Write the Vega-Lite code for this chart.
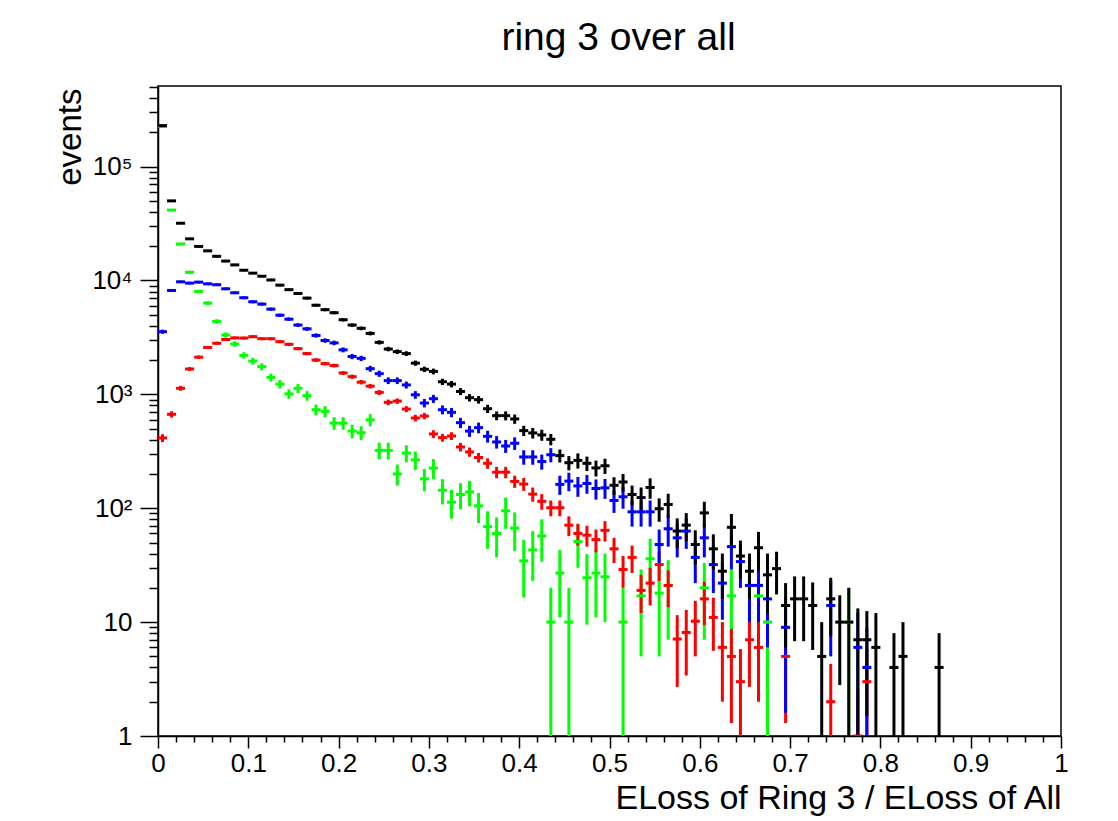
{
"$schema": "https://vega.github.io/schema/vega-lite/v6.json",
"width": 903, "height": 650,
"autosize": {"type": "none"},
"padding": {"left": 158, "top": 86, "right": 57, "bottom": 85},
"background": "white",
"title": {"text": "ring 3 over all", "font": "Liberation Sans", "fontSize": 39, "fontWeight": "normal", "color": "black", "anchor": "middle", "frame": "group", "baseline": "alphabetic", "offset": 38, "dx": 9, "dy": 53},
"config": {"view": {"stroke": "black", "strokeWidth": 1.5}},
"data": {"values": [
{"s":"g","x":0.005,"v":225000,"e":1423},{"s":"g","x":0.015,"v":41500,"e":611},{"s":"g","x":0.025,"v":20900,"e":434},{"s":"g","x":0.035,"v":11800,"e":326},{"s":"g","x":0.045,"v":8010,"e":268},{"s":"g","x":0.055,"v":6330,"e":239},{"s":"g","x":0.065,"v":4370,"e":198},{"s":"g","x":0.075,"v":3320,"e":173},{"s":"g","x":0.085,"v":2770,"e":158},{"s":"g","x":0.095,"v":2200,"e":141},
{"s":"g","x":0.105,"v":1960,"e":133},{"s":"g","x":0.115,"v":1750,"e":125},{"s":"g","x":0.125,"v":1410,"e":113},{"s":"g","x":0.135,"v":1230,"e":105},{"s":"g","x":0.145,"v":1010,"e":95},{"s":"g","x":0.155,"v":1130,"e":101},{"s":"g","x":0.165,"v":973,"e":94},{"s":"g","x":0.175,"v":733,"e":81},{"s":"g","x":0.185,"v":709,"e":80},{"s":"g","x":0.195,"v":560,"e":71},
{"s":"g","x":0.205,"v":560,"e":71},{"s":"g","x":0.215,"v":476,"e":65},{"s":"g","x":0.225,"v":460,"e":64},{"s":"g","x":0.235,"v":597,"e":73},{"s":"g","x":0.245,"v":322,"e":54},{"s":"g","x":0.255,"v":322,"e":54},{"s":"g","x":0.265,"v":200,"e":42},{"s":"g","x":0.275,"v":305,"e":52},{"s":"g","x":0.285,"v":266,"e":49},{"s":"g","x":0.295,"v":181,"e":40},
{"s":"g","x":0.305,"v":225,"e":45},{"s":"g","x":0.315,"v":144,"e":36},{"s":"g","x":0.325,"v":113,"e":32},{"s":"g","x":0.335,"v":132,"e":34},{"s":"g","x":0.345,"v":139,"e":35},{"s":"g","x":0.355,"v":105,"e":31},{"s":"g","x":0.365,"v":69,"e":25},{"s":"g","x":0.375,"v":60,"e":23},{"s":"g","x":0.385,"v":95,"e":29},{"s":"g","x":0.395,"v":67,"e":25},
{"s":"g","x":0.405,"v":34.5,"e":18},{"s":"g","x":0.415,"v":43,"e":20},{"s":"g","x":0.425,"v":57,"e":23},{"s":"g","x":0.435,"v":10,"e":10},{"s":"g","x":0.445,"v":27,"e":16},{"s":"g","x":0.455,"v":10,"e":10},{"s":"g","x":0.465,"v":51,"e":21},{"s":"g","x":0.475,"v":24.5,"e":15},{"s":"g","x":0.485,"v":27,"e":16},{"s":"g","x":0.495,"v":25,"e":15},
{"s":"g","x":0.515,"v":10,"e":10},{"s":"g","x":0.535,"v":17,"e":12},{"s":"g","x":0.545,"v":36,"e":18},{"s":"g","x":0.555,"v":18,"e":13},{"s":"g","x":0.565,"v":21,"e":14},{"s":"g","x":0.605,"v":20,"e":13},{"s":"g","x":0.635,"v":17,"e":12},{"s":"g","x":0.665,"v":17,"e":12},{"s":"g","x":0.675,"v":10,"e":10},{"s":"g","x":0.765,"v":10,"e":10},
{"s":"r","x":0.005,"v":414,"e":33},{"s":"r","x":0.015,"v":668,"e":42},{"s":"r","x":0.025,"v":1130,"e":55},{"s":"r","x":0.035,"v":1670,"e":67},{"s":"r","x":0.045,"v":2120,"e":75},{"s":"r","x":0.055,"v":2580,"e":83},{"s":"r","x":0.065,"v":2810,"e":87},{"s":"r","x":0.075,"v":3030,"e":90},{"s":"r","x":0.085,"v":3130,"e":92},{"s":"r","x":0.095,"v":3120,"e":92},
{"s":"r","x":0.105,"v":3210,"e":93},{"s":"r","x":0.115,"v":3080,"e":91},{"s":"r","x":0.125,"v":3080,"e":91},{"s":"r","x":0.135,"v":2900,"e":88},{"s":"r","x":0.145,"v":2750,"e":86},{"s":"r","x":0.155,"v":2520,"e":82},{"s":"r","x":0.165,"v":2280,"e":78},{"s":"r","x":0.175,"v":2000,"e":73},{"s":"r","x":0.185,"v":1860,"e":71},{"s":"r","x":0.195,"v":1790,"e":69},
{"s":"r","x":0.205,"v":1540,"e":64},{"s":"r","x":0.215,"v":1430,"e":62},{"s":"r","x":0.225,"v":1280,"e":59},{"s":"r","x":0.235,"v":1180,"e":56},{"s":"r","x":0.245,"v":1040,"e":53},{"s":"r","x":0.255,"v":851,"e":48},{"s":"r","x":0.265,"v":873,"e":48},{"s":"r","x":0.275,"v":743,"e":45},{"s":"r","x":0.285,"v":620,"e":41},{"s":"r","x":0.295,"v":645,"e":42},
{"s":"r","x":0.305,"v":449,"e":35},{"s":"r","x":0.315,"v":417,"e":33},{"s":"r","x":0.325,"v":431,"e":34},{"s":"r","x":0.335,"v":345,"e":30},{"s":"r","x":0.345,"v":312,"e":29},{"s":"r","x":0.355,"v":279,"e":27},{"s":"r","x":0.365,"v":248,"e":26},{"s":"r","x":0.375,"v":207,"e":24},{"s":"r","x":0.385,"v":207,"e":24},{"s":"r","x":0.395,"v":172,"e":21},
{"s":"r","x":0.405,"v":163,"e":21},{"s":"r","x":0.415,"v":133,"e":19},{"s":"r","x":0.425,"v":115,"e":18},{"s":"r","x":0.435,"v":101,"e":16},{"s":"r","x":0.445,"v":101,"e":16},{"s":"r","x":0.455,"v":71,"e":14},{"s":"r","x":0.465,"v":60,"e":13},{"s":"r","x":0.475,"v":58,"e":12},{"s":"r","x":0.485,"v":53,"e":12},{"s":"r","x":0.495,"v":64,"e":13},
{"s":"r","x":0.505,"v":44,"e":11},{"s":"r","x":0.515,"v":29,"e":9},{"s":"r","x":0.525,"v":37,"e":10},{"s":"r","x":0.535,"v":19,"e":7},{"s":"r","x":0.545,"v":22,"e":8},{"s":"r","x":0.555,"v":32,"e":9},{"s":"r","x":0.565,"v":21,"e":7.5},{"s":"r","x":0.575,"v":7.1,"e":4.4},{"s":"r","x":0.585,"v":8.1,"e":4.7},{"s":"r","x":0.595,"v":10.2,"e":5.2},
{"s":"r","x":0.605,"v":16,"e":6.6},{"s":"r","x":0.615,"v":11,"e":5.4},{"s":"r","x":0.625,"v":6,"e":4},{"s":"r","x":0.635,"v":5,"e":3.7},{"s":"r","x":0.645,"v":3,"e":2.8},{"s":"r","x":0.655,"v":7,"e":4.3},{"s":"r","x":0.665,"v":6,"e":4},{"s":"r","x":0.695,"v":5,"e":3.7},{"s":"r","x":0.745,"v":2,"e":2.3},{"s":"r","x":0.775,"v":1,"e":1.6},{"s":"r","x":0.785,"v":3,"e":2.8},
{"s":"b","x":0.005,"v":3550,"e":146},{"s":"b","x":0.015,"v":8170,"e":221},{"s":"b","x":0.025,"v":9730,"e":242},{"s":"b","x":0.035,"v":9480,"e":239},{"s":"b","x":0.045,"v":9670,"e":241},{"s":"b","x":0.055,"v":9340,"e":237},{"s":"b","x":0.065,"v":9170,"e":235},{"s":"b","x":0.075,"v":8450,"e":225},{"s":"b","x":0.085,"v":7800,"e":216},{"s":"b","x":0.095,"v":7050,"e":206},
{"s":"b","x":0.105,"v":6500,"e":198},{"s":"b","x":0.115,"v":6200,"e":193},{"s":"b","x":0.125,"v":5600,"e":183},{"s":"b","x":0.135,"v":4950,"e":172},{"s":"b","x":0.145,"v":4570,"e":166},{"s":"b","x":0.155,"v":4060,"e":156},{"s":"b","x":0.165,"v":3760,"e":150},{"s":"b","x":0.175,"v":3290,"e":141},{"s":"b","x":0.185,"v":2970,"e":134},{"s":"b","x":0.195,"v":2830,"e":130},
{"s":"b","x":0.205,"v":2460,"e":122},{"s":"b","x":0.215,"v":2150,"e":114},{"s":"b","x":0.225,"v":2070,"e":111},{"s":"b","x":0.235,"v":1680,"e":100},{"s":"b","x":0.245,"v":1520,"e":96},{"s":"b","x":0.255,"v":1320,"e":89},{"s":"b","x":0.265,"v":1320,"e":89},{"s":"b","x":0.275,"v":1210,"e":85},{"s":"b","x":0.285,"v":991,"e":77},{"s":"b","x":0.295,"v":839,"e":71},
{"s":"b","x":0.305,"v":916,"e":74},{"s":"b","x":0.315,"v":733,"e":66},{"s":"b","x":0.325,"v":695,"e":65},{"s":"b","x":0.335,"v":564,"e":58},{"s":"b","x":0.345,"v":476,"e":53},{"s":"b","x":0.355,"v":510,"e":55},{"s":"b","x":0.365,"v":428,"e":51},{"s":"b","x":0.375,"v":382,"e":48},{"s":"b","x":0.385,"v":352,"e":46},{"s":"b","x":0.395,"v":372,"e":47},
{"s":"b","x":0.405,"v":282,"e":41},{"s":"b","x":0.415,"v":282,"e":41},{"s":"b","x":0.425,"v":257,"e":39},{"s":"b","x":0.435,"v":295,"e":42},{"s":"b","x":0.445,"v":162,"e":31},{"s":"b","x":0.455,"v":173,"e":32},{"s":"b","x":0.465,"v":157,"e":31},{"s":"b","x":0.475,"v":165,"e":31},{"s":"b","x":0.485,"v":149,"e":30},{"s":"b","x":0.495,"v":151,"e":30},
{"s":"b","x":0.505,"v":117,"e":26},{"s":"b","x":0.515,"v":126,"e":27},{"s":"b","x":0.525,"v":93,"e":24},{"s":"b","x":0.535,"v":93,"e":24},{"s":"b","x":0.545,"v":93,"e":24},{"s":"b","x":0.555,"v":48,"e":17},{"s":"b","x":0.565,"v":66,"e":20},{"s":"b","x":0.575,"v":55,"e":18},{"s":"b","x":0.585,"v":63,"e":19},{"s":"b","x":0.595,"v":37,"e":15},
{"s":"b","x":0.605,"v":55,"e":18},{"s":"b","x":0.615,"v":32,"e":14},{"s":"b","x":0.625,"v":22,"e":11.5},{"s":"b","x":0.635,"v":46,"e":17},{"s":"b","x":0.645,"v":34,"e":14},{"s":"b","x":0.655,"v":21,"e":11},{"s":"b","x":0.665,"v":21,"e":11},{"s":"b","x":0.675,"v":16,"e":10},{"s":"b","x":0.695,"v":9,"e":7.4},{"s":"b","x":0.745,"v":14,"e":9},{"s":"b","x":0.775,"v":6,"e":6},{"s":"b","x":0.785,"v":4,"e":4.9},
{"s":"k","x":0.005,"v":229000,"e":1431},{"s":"k","x":0.015,"v":50000,"e":651},{"s":"k","x":0.025,"v":31800,"e":500},{"s":"k","x":0.035,"v":23200,"e":410},{"s":"k","x":0.045,"v":19900,"e":368},{"s":"k","x":0.055,"v":18200,"e":347},{"s":"k","x":0.065,"v":16300,"e":319},{"s":"k","x":0.075,"v":14800,"e":298},{"s":"k","x":0.085,"v":13700,"e":283},{"s":"k","x":0.095,"v":12300,"e":266},
{"s":"k","x":0.105,"v":11600,"e":256},{"s":"k","x":0.115,"v":10900,"e":247},{"s":"k","x":0.125,"v":10100,"e":234},{"s":"k","x":0.135,"v":9100,"e":220},{"s":"k","x":0.145,"v":8300,"e":210},{"s":"k","x":0.155,"v":7690,"e":203},{"s":"k","x":0.165,"v":7000,"e":193},{"s":"k","x":0.175,"v":6060,"e":178},{"s":"k","x":0.185,"v":5540,"e":171},{"s":"k","x":0.195,"v":5210,"e":163},
{"s":"k","x":0.205,"v":4520,"e":155},{"s":"k","x":0.215,"v":4060,"e":145},{"s":"k","x":0.225,"v":3800,"e":141},{"s":"k","x":0.235,"v":3430,"e":136},{"s":"k","x":0.245,"v":2860,"e":122},{"s":"k","x":0.255,"v":2500,"e":115},{"s":"k","x":0.265,"v":2370,"e":109},{"s":"k","x":0.275,"v":2280,"e":109},{"s":"k","x":0.285,"v":1880,"e":100},{"s":"k","x":0.295,"v":1660,"e":92},
{"s":"k","x":0.305,"v":1590,"e":93},{"s":"k","x":0.315,"v":1290,"e":82},{"s":"k","x":0.325,"v":1230,"e":80},{"s":"k","x":0.335,"v":1060,"e":74},{"s":"k","x":0.345,"v":935,"e":70},{"s":"k","x":0.355,"v":898,"e":69},{"s":"k","x":0.365,"v":748,"e":62},{"s":"k","x":0.375,"v":650,"e":58},{"s":"k","x":0.385,"v":650,"e":59},{"s":"k","x":0.395,"v":608,"e":57},
{"s":"k","x":0.405,"v":480,"e":49},{"s":"k","x":0.415,"v":458,"e":49},{"s":"k","x":0.425,"v":440,"e":49},{"s":"k","x":0.435,"v":403,"e":46},{"s":"k","x":0.445,"v":290,"e":38},{"s":"k","x":0.455,"v":251,"e":36},{"s":"k","x":0.465,"v":263,"e":40},{"s":"k","x":0.475,"v":248,"e":36},{"s":"k","x":0.485,"v":226,"e":36},{"s":"k","x":0.495,"v":236,"e":36},
{"s":"k","x":0.505,"v":159,"e":28},{"s":"k","x":0.515,"v":170,"e":30},{"s":"k","x":0.525,"v":132,"e":26},{"s":"k","x":0.535,"v":124,"e":28},{"s":"k","x":0.545,"v":152,"e":31},{"s":"k","x":0.555,"v":99,"e":23},{"s":"k","x":0.565,"v":108,"e":26},{"s":"k","x":0.575,"v":63,"e":18.5},{"s":"k","x":0.585,"v":71,"e":19.6},{"s":"k","x":0.595,"v":48,"e":16},
{"s":"k","x":0.605,"v":91,"e":23},{"s":"k","x":0.615,"v":44,"e":15},{"s":"k","x":0.625,"v":28,"e":12},{"s":"k","x":0.635,"v":68,"e":21},{"s":"k","x":0.645,"v":38,"e":14},{"s":"k","x":0.655,"v":28,"e":12},{"s":"k","x":0.665,"v":45,"e":17},{"s":"k","x":0.675,"v":26,"e":14},{"s":"k","x":0.685,"v":29.5,"e":12},{"s":"k","x":0.695,"v":14,"e":8},
{"s":"k","x":0.705,"v":16,"e":9.2},{"s":"k","x":0.715,"v":16,"e":9.2},{"s":"k","x":0.725,"v":14,"e":8.3},{"s":"k","x":0.735,"v":5,"e":5},{"s":"k","x":0.745,"v":16,"e":8.5},{"s":"k","x":0.755,"v":10,"e":7.2},{"s":"k","x":0.765,"v":10,"e":10},{"s":"k","x":0.775,"v":7,"e":6.2},{"s":"k","x":0.785,"v":7,"e":5.5},{"s":"k","x":0.795,"v":6,"e":6},
{"s":"k","x":0.815,"v":4,"e":4},{"s":"k","x":0.825,"v":5,"e":5},{"s":"k","x":0.865,"v":4,"e":4}
]},
"transform": [
{"calculate": "max(datum.v - datum.e, 1)", "as": "lo"},
{"calculate": "datum.v + datum.e", "as": "hi"},
{"calculate": "datum.x - 0.005", "as": "xl"},
{"calculate": "datum.x + 0.005", "as": "xr"}
],
"encoding": {
"color": {"field": "s", "type": "nominal", "scale": {"domain": ["g","r","b","k"], "range": ["#00ff00","#ff0000","#0000ff","#000000"]}, "legend": null}
},
"layer": [
{"mark": {"type": "rule", "strokeWidth": 3, "clip": true},
 "encoding": {
  "x": {"field": "x", "type": "quantitative",
   "scale": {"domain": [0, 1], "nice": false, "zero": false},
   "axis": {"title": "ELoss of Ring 3 / ELoss of All",
    "tickCount": 200,
    "values": [0,0.02,0.04,0.06,0.08,0.1,0.12,0.14,0.16,0.18,0.2,0.22,0.24,0.26,0.28,0.3,0.32,0.34,0.36,0.38,0.4,0.42,0.44,0.46,0.48,0.5,0.52,0.54,0.56,0.58,0.6,0.62,0.64,0.66,0.68,0.7,0.72,0.74,0.76,0.78,0.8,0.82,0.84,0.86,0.88,0.9,0.92,0.94,0.96,0.98,1],
    "labelExpr": "abs(datum.value*10 - round(datum.value*10)) < 0.001 ? '' + (round(datum.value*10)/10) : ''",
    "tickSize": {"condition": {"test": "abs(datum.value*10 - round(datum.value*10)) < 0.001", "value": 12}, "value": 6},
    "grid": false, "domainColor": "black", "domainWidth": 1.5, "tickColor": "black", "tickWidth": 1.5,
    "labelFont": "Liberation Sans", "labelFontSize": 26, "labelColor": "black", "labelPadding": 2, "labelFlush": false, "labelOverlap": false, "labelBound": false,
    "titleFont": "Liberation Sans", "titleFontSize": 34, "titleFontWeight": "normal", "titleColor": "black",
    "titleAlign": "right", "titleBaseline": "alphabetic", "titleX": 903, "titleY": 72}},
  "y": {"field": "lo", "type": "quantitative",
   "scale": {"type": "log", "domain": [1, 510000], "nice": false},
   "axis": {"title": "events",
    "tickCount": 200,
    "values": [1,2,3,4,5,6,7,8,9,10,20,30,40,50,60,70,80,90,100,200,300,400,500,600,700,800,900,1000,2000,3000,4000,5000,6000,7000,8000,9000,10000,20000,30000,40000,50000,60000,70000,80000,90000,100000,200000,300000,400000,500000],
    "labelExpr": "datum.value==1?'1':datum.value==10?'10':datum.value==100?'10²':datum.value==1000?'10³':datum.value==10000?'10⁴':datum.value==100000?'10⁵':''",
    "tickSize": {"condition": {"test": "indexof([1,10,100,1000,10000,100000], datum.value) >= 0", "value": 18}, "value": 9},
    "grid": false, "domainColor": "black", "domainWidth": 1.5, "tickColor": "black", "tickWidth": 1.5,
    "labelFont": "Liberation Sans", "labelFontSize": 26, "labelColor": "black", "labelPadding": 8, "labelOverlap": false, "labelBound": false, "labelFlush": false,
    "titleFont": "Liberation Sans", "titleFontSize": 33, "titleFontWeight": "normal", "titleColor": "black",
    "titleAngle": -90, "titleAlign": "right", "titleBaseline": "alphabetic", "titleX": -78, "titleY": 2}},
  "y2": {"field": "hi"}
 }},
{"mark": {"type": "rule", "strokeWidth": 3, "clip": true},
 "encoding": {
  "x": {"field": "xl", "type": "quantitative"},
  "x2": {"field": "xr"},
  "y": {"field": "v", "type": "quantitative"}
 }}
]
}
